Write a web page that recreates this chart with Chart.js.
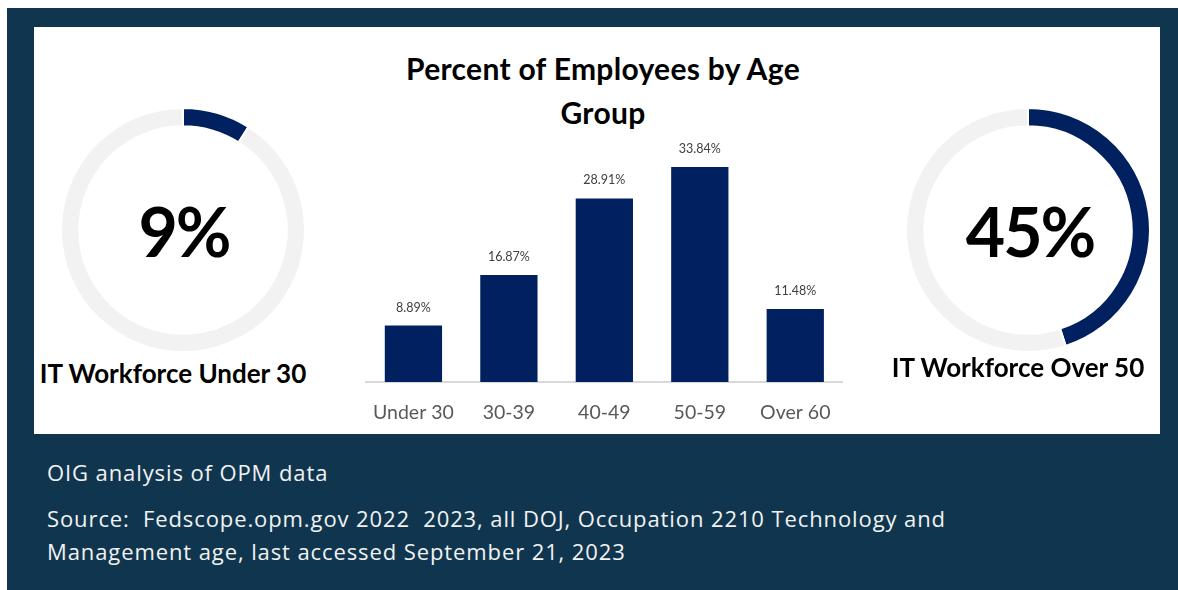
<!DOCTYPE html>
<html>
<head>
<meta charset="utf-8">
<script src="https://cdn.jsdelivr.net/npm/chart.js@4.4.0/dist/chart.umd.min.js"></script>
<style>
  body { margin: 0; width: 1178px; height: 590px; position: relative; overflow: hidden; background: #fff; }
  .abs { position: absolute; }
  #frame { left: 7px; top: 8px; width: 1171px; height: 582px; background: #10364f; }
  #panel { left: 34px; top: 27px; width: 1126px; height: 407px; background: #fff; }
  #title { left: 303px; top: 46px; width: 600px; text-align: center; font: bold 30px Lato, sans-serif; letter-spacing: 0.3px; line-height: 44px; color: #000; }
  .big { width: 250px; text-align: center; font: bold 68px Lato, sans-serif; letter-spacing: -2px; color: #000; line-height: 72px; }
  .cap { text-align: center; font: bold 26px Lato, sans-serif; color: #000; white-space: nowrap; line-height: 30px; }
  .foot { left: 47px; font: 22px "Open Sans", sans-serif; letter-spacing: 0.9px; color: #f2f2f2; line-height: 33px; white-space: nowrap; }
</style>
</head>
<body>
<div id="frame" class="abs"></div>
<div id="panel" class="abs"></div>

<div id="title" class="abs">Percent of Employees by Age<br>Group</div>

<canvas id="under30" class="abs" width="246" height="246" style="left:60px;top:107px"></canvas>
<canvas id="over50" class="abs" width="246" height="246" style="left:905px;top:107px"></canvas>
<canvas id="ages" class="abs" width="481" height="300" style="left:362px;top:128px"></canvas>

<div id="under30Text" class="abs big" style="left:59px;top:195px"></div>
<div id="over50Text" class="abs big" style="left:905px;top:195px"></div>
<div class="abs cap" style="left:23px;top:358px;width:300px">IT Workforce Under 30</div>
<div class="abs cap" style="left:868px;top:352px;width:300px">IT Workforce Over 50</div>

<div class="abs foot" style="top:456px">OIG analysis of OPM data</div>
<div class="abs foot" style="top:502px">Source:&nbsp; Fedscope.opm.gov 2022&nbsp; 2023, all DOJ, Occupation 2210 Technology and<br>Management age, last accessed September 21, 2023</div>

<script>
const ageGroups = ['Under 30', '30-39', '40-49', '50-59', 'Over 60'];
const ageShares = [8.89, 16.87, 28.91, 33.84, 11.48];

// ring gauges: [highlighted part, rest]
const under30Ring = [9, 91];
const over50Ring = [45, 55];

const navy = '#002060';
const ringGrey = '#f2f2f2';

// percent labels sitting above each bar
const valueLabels = {
  id: 'valueLabels',
  afterDatasetsDraw(chart) {
    const ctx = chart.ctx;
    const meta = chart.getDatasetMeta(0);
    ctx.save();
    ctx.font = '12.5px Lato';
    ctx.fillStyle = '#404040';
    ctx.textAlign = 'center';
    ctx.textBaseline = 'middle';
    meta.data.forEach((bar, i) => {
      ctx.fillText(ageShares[i].toFixed(2) + '%', bar.x, bar.y - 18);
    });
    ctx.restore();
  }
};

new Chart(document.getElementById('ages'), {
  type: 'bar',
  data: {
    labels: ageGroups,
    datasets: [{
      data: ageShares,
      backgroundColor: navy,
      barPercentage: 0.6,
      categoryPercentage: 1
    }]
  },
  options: {
    responsive: false,
    animation: false,
    events: [],
    layout: { padding: 0 },
    scales: {
      y: { display: false, min: 0, max: 40 },
      x: {
        grid: { display: false },
        border: { display: true, color: '#d9d9d9', width: 2 },
        ticks: { color: '#595959', font: { family: 'Lato', size: 19.5 }, padding: 11 },
        afterFit(scale) { scale.height = 46; }
      }
    },
    plugins: { legend: { display: false }, tooltip: { enabled: false } }
  },
  plugins: [valueLabels]
});

function ring(id, values) {
  new Chart(document.getElementById(id), {
    type: 'doughnut',
    data: {
      datasets: [{
        data: values,
        backgroundColor: [navy, ringGrey],
        borderColor: '#fff',
        borderWidth: 2
      }]
    },
    options: {
      responsive: false,
      animation: false,
      events: [],
      cutout: '85%',
      plugins: { legend: { display: false }, tooltip: { enabled: false } }
    }
  });
}
ring('under30', under30Ring);
ring('over50', over50Ring);

document.getElementById('under30Text').textContent = under30Ring[0] + '%';
document.getElementById('over50Text').textContent = over50Ring[0] + '%';
</script>
</body>
</html>
